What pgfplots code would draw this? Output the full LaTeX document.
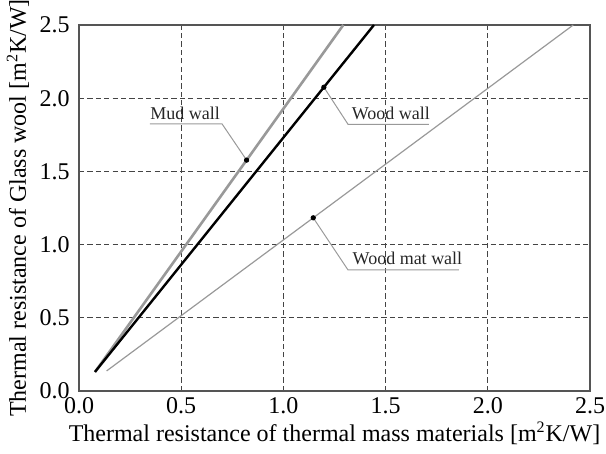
\documentclass[border=0pt]{standalone}
\usepackage{fontspec}
\setmainfont{Liberation Serif}
\usepackage{pgfplots}
\pgfplotsset{compat=1.18}

\definecolor{linegray}{HTML}{999999}
\definecolor{gridgray}{HTML}{444444}
\definecolor{framegray}{HTML}{555555}

\begin{document}
\fontsize{12}{14}\selectfont
\begin{tikzpicture}
\begin{axis}[
    scale only axis,
    width=255.5pt, height=183pt,
    xmin=0, xmax=2.5, ymin=0, ymax=2.5,
    xtick={0,0.5,...,2.5}, ytick={0,0.5,...,2.5},
    grid=major,
    major grid style={gridgray, line width=0.6pt, dash pattern=on 2.6pt off 1.6pt},
    axis line style={framegray, line width=0.9pt},
    major tick length=0pt,
    tick label style={font=\fontsize{12}{14}\selectfont},
    label style={font=\fontsize{12}{14}\selectfont},
    /pgf/number format/assume math mode=true,
    /pgf/number format/.cd, fixed, fixed zerofill, precision=1, /pgfplots/.cd,
    xticklabel style={yshift=1pt},
    yticklabel style={xshift=-0.5pt},
    xlabel={Thermal resistance of thermal mass materials [m\textsuperscript{2}K/W]},
    ylabel={Thermal resistance of Glass wool [m\textsuperscript{2}K/W]},
    xlabel style={yshift=4pt},
    ylabel style={yshift=-3pt},
]
% Mud wall
\addplot[linegray, line width=1.3pt] coordinates {
(0.078,0.13) (0.82,1.577) (1.293,2.5)
};
% Wood wall
\addplot[black, line width=1.2pt] coordinates {
(0.078,0.13) (1.198,2.075) (1.443,2.5)
};
% Wood mat wall
\addplot[linegray, line width=0.6pt] coordinates {
(0.135,0.137) (1.146,1.183) (2.418,2.5)
};
% leader lines
\addplot[linegray, line width=0.5pt] coordinates {(0.347,1.824) (0.70,1.824) (0.82,1.577)};
\addplot[linegray, line width=0.5pt] coordinates {(1.198,2.075) (1.316,1.822) (1.712,1.822)};
\addplot[linegray, line width=0.5pt] coordinates {(1.146,1.183) (1.316,0.827) (1.859,0.827)};
% markers
\addplot[only marks, mark=*, mark size=1.1pt, black] coordinates {(0.82,1.577) (1.198,2.075) (1.146,1.183)};
\node[font=\fontsize{9}{10}\selectfont, text=black!85] at (axis cs:0.519,1.899) {Mud wall};
\node[font=\fontsize{9}{10}\selectfont, text=black!85] at (axis cs:1.526,1.899) {Wood wall};
\node[font=\fontsize{9}{10}\selectfont, text=black!85] at (axis cs:1.607,0.908) {Wood mat wall};
\coordinate (bl) at (rel axis cs:-0.1546,-0.1694);
\coordinate (tr) at (rel axis cs:1.0313,1.0683);
\end{axis}
\pgfresetboundingbox
\path[use as bounding box] (bl) rectangle (tr);
\end{tikzpicture}
\end{document}
